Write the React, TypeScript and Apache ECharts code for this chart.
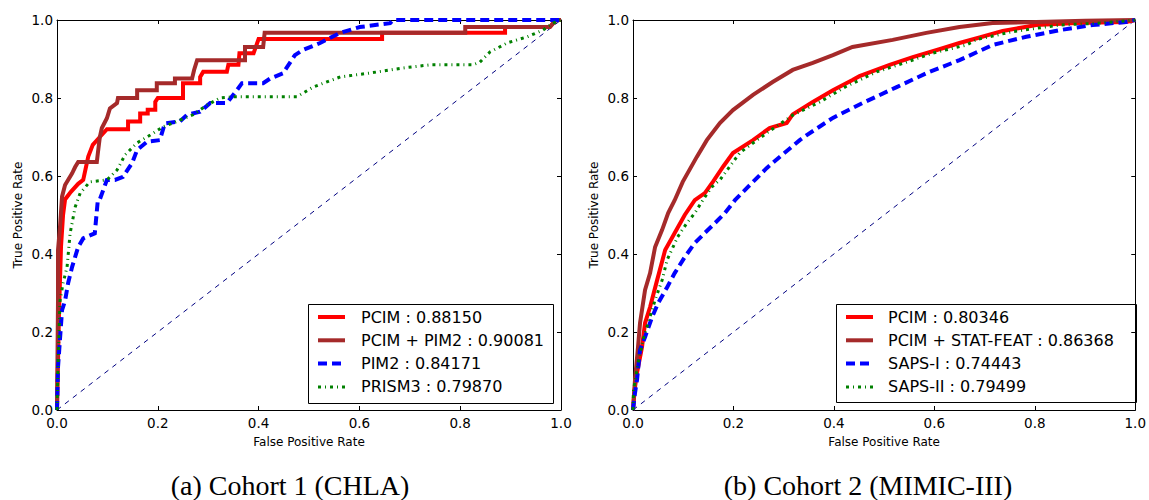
import React, { useEffect, useRef } from "react";
import * as echarts from "echarts";

// ---------- Data ----------
const captions = ["(a) Cohort 1 (CHLA)", "(b) Cohort 2 (MIMIC-III)"];
const leftNames = ["PCIM : 0.88150", "PCIM + PIM2 : 0.90081", "PIM2 : 0.84171", "PRISM3 : 0.79870"];
const rightNames = ["PCIM : 0.80346", "PCIM + STAT-FEAT : 0.86368", "SAPS-I : 0.74443", "SAPS-II : 0.79499"];
const diagonal = [[0, 0], [1, 1]];

// Cohort 1 (CHLA)
const leftPCIM = [[0,0],[0.004,0.25],[0.008,0.42],[0.012,0.5],[0.016,0.54],[0.028,0.56],[0.042,0.58],[0.052,0.59],[0.062,0.65],[0.071,0.68],[0.085,0.7],[0.099,0.72],[0.141,0.72],[0.141,0.74],[0.165,0.74],[0.165,0.76],[0.18,0.76],[0.18,0.77],[0.195,0.77],[0.195,0.79],[0.2,0.8],[0.25,0.8],[0.25,0.838],[0.284,0.838],[0.284,0.854],[0.29,0.867],[0.337,0.867],[0.34,0.885],[0.36,0.885],[0.362,0.915],[0.39,0.915],[0.4,0.951],[0.645,0.951],[0.645,0.967],[0.889,0.967],[0.889,0.982],[0.978,0.982],[0.99,1],[1,1]];
const leftPCIMPIM2 = [[0,0],[0.002,0.28],[0.002,0.41],[0.006,0.47],[0.01,0.547],[0.016,0.577],[0.022,0.59],[0.03,0.607],[0.036,0.623],[0.042,0.636],[0.079,0.636],[0.081,0.658],[0.085,0.7],[0.089,0.723],[0.099,0.748],[0.105,0.773],[0.119,0.787],[0.121,0.8],[0.159,0.8],[0.159,0.82],[0.198,0.82],[0.198,0.838],[0.234,0.838],[0.234,0.85],[0.268,0.85],[0.272,0.872],[0.278,0.897],[0.373,0.897],[0.373,0.931],[0.409,0.931],[0.412,0.967],[0.81,0.967],[0.81,0.982],[0.978,0.982],[0.99,1],[1,1]];
const leftPIM2 = [[0,0],[0.002,0.11],[0.01,0.256],[0.016,0.28],[0.022,0.325],[0.03,0.367],[0.042,0.418],[0.052,0.44],[0.075,0.453],[0.081,0.538],[0.085,0.54],[0.099,0.59],[0.115,0.59],[0.131,0.598],[0.149,0.633],[0.159,0.667],[0.179,0.688],[0.204,0.692],[0.214,0.735],[0.244,0.74],[0.258,0.757],[0.284,0.765],[0.304,0.787],[0.337,0.787],[0.357,0.82],[0.367,0.838],[0.409,0.838],[0.423,0.85],[0.448,0.863],[0.462,0.89],[0.472,0.91],[0.488,0.923],[0.522,0.941],[0.562,0.967],[0.601,0.982],[0.661,0.992],[0.667,1],[1,1]];
const leftPRISM3 = [[0,0],[0.002,0.11],[0.006,0.28],[0.012,0.325],[0.02,0.367],[0.026,0.453],[0.036,0.52],[0.046,0.556],[0.065,0.585],[0.099,0.59],[0.119,0.615],[0.135,0.654],[0.159,0.685],[0.185,0.705],[0.21,0.726],[0.238,0.74],[0.27,0.757],[0.298,0.782],[0.323,0.8],[0.349,0.803],[0.476,0.803],[0.508,0.828],[0.562,0.854],[0.621,0.864],[0.687,0.877],[0.74,0.885],[0.825,0.885],[0.839,0.892],[0.859,0.918],[0.893,0.941],[0.933,0.957],[0.964,0.974],[0.984,0.992],[1,1]];

// Cohort 2 (MIMIC-III)
const rightPCIM = [[0,0],[0.003,0.05],[0.008,0.095],[0.018,0.162],[0.024,0.223],[0.034,0.264],[0.048,0.333],[0.064,0.41],[0.083,0.454],[0.103,0.5],[0.123,0.538],[0.143,0.556],[0.159,0.585],[0.18,0.625],[0.199,0.659],[0.239,0.692],[0.272,0.723],[0.306,0.736],[0.318,0.758],[0.358,0.79],[0.398,0.82],[0.437,0.846],[0.451,0.856],[0.511,0.885],[0.557,0.905],[0.61,0.925],[0.65,0.941],[0.69,0.955],[0.736,0.972],[0.803,0.987],[0.883,0.992],[0.982,0.995],[1,1]];
const rightStatFeat = [[0,0],[0.002,0.04],[0.004,0.077],[0.01,0.162],[0.014,0.223],[0.024,0.308],[0.034,0.351],[0.044,0.418],[0.058,0.462],[0.07,0.505],[0.083,0.538],[0.099,0.585],[0.127,0.649],[0.147,0.692],[0.173,0.736],[0.199,0.769],[0.239,0.808],[0.278,0.841],[0.318,0.872],[0.358,0.89],[0.398,0.91],[0.437,0.931],[0.517,0.949],[0.584,0.967],[0.65,0.982],[0.716,0.992],[0.803,0.995],[0.9,0.998],[1,1]];
const rightSAPS1 = [[0,0],[0.004,0.044],[0.008,0.077],[0.014,0.154],[0.024,0.187],[0.038,0.238],[0.05,0.274],[0.068,0.315],[0.083,0.351],[0.103,0.392],[0.123,0.428],[0.143,0.454],[0.163,0.479],[0.183,0.505],[0.203,0.538],[0.229,0.572],[0.266,0.62],[0.292,0.649],[0.332,0.692],[0.346,0.705],[0.398,0.749],[0.457,0.787],[0.525,0.828],[0.59,0.867],[0.65,0.897],[0.716,0.936],[0.783,0.957],[0.849,0.974],[0.915,0.987],[0.982,0.995],[1,1]];
const rightSAPS2 = [[0,0],[0.001,0.05],[0.01,0.12],[0.02,0.18],[0.03,0.223],[0.044,0.282],[0.058,0.333],[0.068,0.385],[0.089,0.444],[0.107,0.479],[0.123,0.505],[0.139,0.538],[0.157,0.572],[0.173,0.59],[0.213,0.66],[0.266,0.71],[0.318,0.756],[0.372,0.79],[0.425,0.83],[0.485,0.867],[0.545,0.892],[0.596,0.915],[0.664,0.936],[0.684,0.95],[0.755,0.97],[0.849,0.987],[0.928,0.992],[1,1]];

const COLORS = ["#ff0000", "#a52a2a", "#0000ff", "#008000"];
const NAVY = "#000080";
const WIDTHS = [4, 4, 4, 3];
const DASHES: any[] = [null, null, [9, 5], [3, 4, 1, 4]];
const FONT = "DejaVu Sans";

function makeAxis(dim: "x" | "y", gridIndex: number, position: string, labels: boolean, name = "") {
  const a: any = {
    type: "value",
    gridIndex,
    position,
    min: 0,
    max: 1,
    interval: 0.2,
    axisLine: { show: true, onZero: false, lineStyle: { color: "#000", width: 1 } },
    axisTick: { show: true, inside: true, length: 4, lineStyle: { color: "#000", width: 1 } },
    axisLabel: {
      show: labels,
      formatter: (v: number) => v.toFixed(1),
      color: "#000",
      fontSize: 13.5,
      fontFamily: FONT,
      margin: dim === "x" ? 6 : 4,
    },
    splitLine: { show: false },
  };
  if (name) {
    a.name = name;
    a.nameLocation = "middle";
    a.nameGap = dim === "x" ? 26 : 33;
    a.nameTextStyle = { color: "#000", fontSize: 12, fontFamily: FONT };
  }
  return a;
}

function lineSeries(name: string, data: number[][], color: string, width: number, type: any, gi: number) {
  return {
    type: "line",
    name,
    data,
    xAxisIndex: gi * 2,
    yAxisIndex: gi * 2,
    showSymbol: false,
    symbol: "none",
    lineStyle: { color, width, type: type || "solid", cap: "butt", join: "miter" },
    itemStyle: { color },
    emphasis: { disabled: true },
    silent: true,
  };
}

function legendGraphic(names: string[], box: { x: number; y: number; w: number; h: number }, lineX: number, textX: number) {
  const children: any[] = [
    { type: "rect", shape: { x: box.x + 0.5, y: box.y + 0.5, width: box.w, height: box.h }, style: { fill: "#fff", stroke: "#000", lineWidth: 1 } },
  ];
  names.forEach((n, i) => {
    const cy = box.y + 13 + i * 23.3;
    children.push({
      type: "line",
      shape: { x1: lineX, y1: cy, x2: lineX + 27, y2: cy },
      style: { stroke: COLORS[i], lineWidth: WIDTHS[i], lineDash: DASHES[i] || undefined, lineCap: "butt" },
    });
    children.push({
      type: "text",
      x: textX,
      y: cy,
      style: { text: n, fill: "#000", font: `16px '${FONT}'`, verticalAlign: "middle", align: "left" },
    });
  });
  return { type: "group", z: 100, children };
}

export default function App() {
  const ref = useRef<HTMLDivElement>(null);
  useEffect(() => {
    document.body.style.margin = "0";
    if (!ref.current) return;
    const chart = echarts.init(ref.current, null, { renderer: "svg" });
    const leftData = [leftPCIM, leftPCIMPIM2, leftPIM2, leftPRISM3];
    const rightData = [rightPCIM, rightStatFeat, rightSAPS1, rightSAPS2];
    const series: any[] = [lineSeries("diag-a", diagonal, NAVY, 1, [5, 5], 0)];
    leftData.forEach((d, i) => series.push(lineSeries(leftNames[i], d, COLORS[i], WIDTHS[i], DASHES[i], 0)));
    series.push(lineSeries("diag-b", diagonal, NAVY, 1, [5, 5], 1));
    rightData.forEach((d, i) => series.push(lineSeries(rightNames[i], d, COLORS[i], WIDTHS[i], DASHES[i], 1)));
    const option: any = {
      animation: false,
      backgroundColor: "#fff",
      grid: [
        { left: 57, top: 20, width: 504, height: 390 },
        { left: 633, top: 20, width: 503, height: 390 },
      ],
      xAxis: [
        makeAxis("x", 0, "bottom", true, "False Positive Rate"),
        makeAxis("x", 0, "top", false),
        makeAxis("x", 1, "bottom", true, "False Positive Rate"),
        makeAxis("x", 1, "top", false),
      ],
      yAxis: [
        makeAxis("y", 0, "left", true, "True Positive Rate"),
        makeAxis("y", 0, "right", false),
        makeAxis("y", 1, "left", true, "True Positive Rate"),
        makeAxis("y", 1, "right", false),
      ],
      series,
      graphic: [
        legendGraphic(leftNames, { x: 308, y: 304, w: 245, h: 99 }, 318, 361),
        legendGraphic(rightNames, { x: 836, y: 304, w: 300, h: 98 }, 846, 888),
        {
          type: "text",
          x: 290,
          y: 485,
          style: { text: captions[0], fill: "#000", font: "28px 'Liberation Serif'", align: "center", verticalAlign: "middle" },
        },
        {
          type: "text",
          x: 868,
          y: 485,
          style: { text: captions[1], fill: "#000", font: "28px 'Liberation Serif'", align: "center", verticalAlign: "middle" },
        },
      ],
    };
    chart.setOption(option);
    return () => chart.dispose();
  }, []);
  return <div ref={ref} style={{ width: 1149, height: 500 }} />;
}
